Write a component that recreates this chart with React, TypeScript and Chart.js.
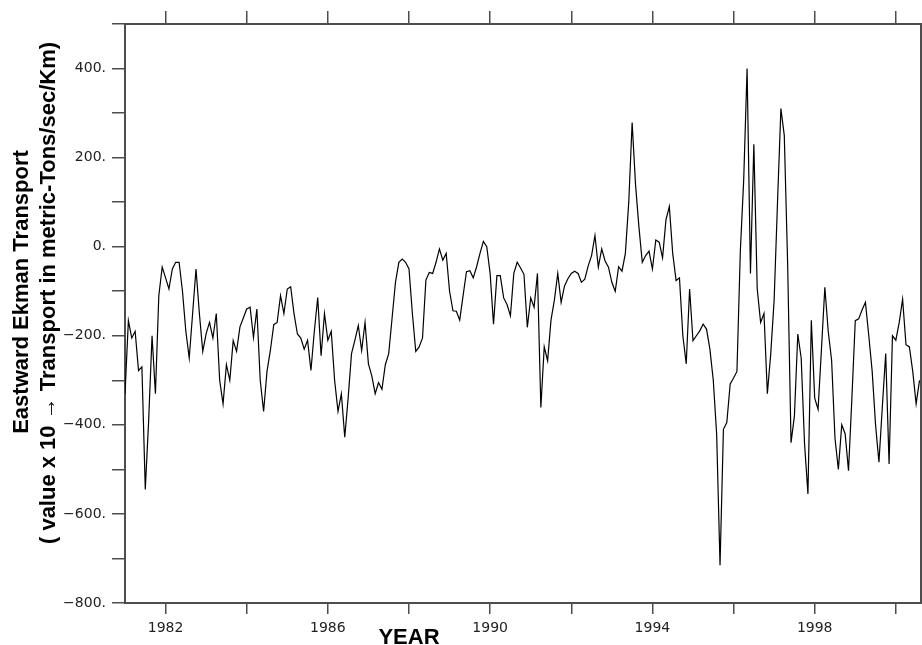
import React, { useEffect, useRef } from "react";
import Chart from "chart.js/auto";

// Monthly Eastward Ekman transport, starting January 1981
const START_YEAR = 1981;
const values1981_1984 = [
  -331, -166, -205, -190, -278, -270, -545, -390, -200, -330, -110, -46,
  -70, -95, -50, -35, -35, -100, -190, -250, -150, -50, -150, -235,
  -195, -170, -205, -150, -300, -353, -265, -300, -211, -235, -180, -160,
  -140, -136, -204, -140, -300, -370, -280, -233, -175, -170, -110, -150,
];
const values1985_1988 = [
  -95, -90, -151, -196, -205, -230, -210, -278, -190, -114, -245, -150,
  -210, -190, -300, -370, -330, -428, -340, -240, -210, -177, -233, -170,
  -263, -290, -330, -305, -320, -265, -240, -160, -80, -35, -28, -35,
  -50, -150, -235, -225, -205, -75, -58, -60, -35, -5, -30, -15,
];
const values1989_1992 = [
  -100, -144, -145, -165, -110, -56, -54, -70, -45, -15, 12, 0,
  -60, -174, -65, -65, -115, -130, -155, -60, -35, -48, -62, -181,
  -115, -136, -60, -361, -225, -256, -165, -120, -60, -125, -88, -72,
  -60, -55, -60, -80, -73, -43, -20, 25, -46, -5, -32, -46,
];
const values1993_1996 = [
  -80, -100, -45, -55, -15, 100, 279, 140, 45, -35, -20, -10,
  -50, 15, 10, -25, 60, 90, -15, -76, -70, -200, -263, -95,
  -211, -200, -189, -174, -185, -230, -300, -421, -715, -410, -395, -308,
  -295, -280, -10, 150, 400, -60, 230, -95, -170, -150, -330, -240,
];
const values1997_2000 = [
  -120, 100, 310, 250, -40, -440, -380, -196, -250, -443, -555, -165,
  -340, -365, -230, -91, -190, -255, -430, -500, -400, -420, -503, -340,
  -166, -162, -142, -125, -200, -280, -400, -484, -360, -240, -488, -200,
  -210, -170, -118, -220, -225, -280, -353, -300,
];

const X_MIN = 1981;
const X_MAX = 2000.62;
const Y_MIN = -800;
const Y_MAX = 500;
const TICK_YEARS = [1982, 1984, 1986, 1988, 1990, 1992, 1994, 1996, 1998, 2000];
const LABEL_YEARS = [1982, 1986, 1990, 1994, 1998];
const Y_TITLE = ["Eastward Ekman Transport", "( value x 10 \u2192 Transport in metric-Tons/sec/Km)"];
const X_TITLE = "YEAR";

const AXIS_COLOR = "#4d4d4d";
const TICK_FONT = { family: "'DejaVu Sans', sans-serif", size: 14 };
const TITLE_FONT = "bold 22px 'Liberation Sans', Arial, sans-serif";

const titlesPlugin = {
  id: "axisTitles",
  afterDraw(chart: any) {
    const ctx = chart.ctx;
    const area = chart.chartArea;
    ctx.save();
    ctx.fillStyle = "#000";
    ctx.font = TITLE_FONT;
    ctx.textAlign = "center";
    ctx.textBaseline = "alphabetic";
    ctx.fillText(X_TITLE, area.left + 284, 644);
    const cy = area.top + 268;
    ctx.save();
    ctx.translate(28, cy);
    ctx.rotate(-Math.PI / 2);
    ctx.fillText(Y_TITLE[0], 0, 0);
    ctx.restore();
    ctx.save();
    ctx.translate(55, cy + 1);
    ctx.rotate(-Math.PI / 2);
    ctx.fillText(Y_TITLE[1], 0, 0);
    ctx.restore();
    ctx.restore();
  },
};

function fmtY(v: number): string {
  if (v === 0) return "0.";
  return (v < 0 ? "\u2212" : "") + Math.abs(v) + ".";
}

export default function App() {
  const ref = useRef<HTMLCanvasElement | null>(null);
  useEffect(() => {
    if (!ref.current) return;
    const all = [
      ...values1981_1984,
      ...values1985_1988,
      ...values1989_1992,
      ...values1993_1996,
      ...values1997_2000,
    ];
    const points = all.map((v, i) => ({ x: START_YEAR + i / 12, y: v }));
    const setYearTicks = (s: any) => {
      s.ticks = TICK_YEARS.map((v) => ({ value: v }));
    };
    const chart = new Chart(ref.current, {
      type: "line",
      data: {
        datasets: [
          {
            data: points,
            borderColor: "#000",
            borderWidth: 1.2,
            pointRadius: 0,
            fill: false,
            tension: 0,
            xAxisID: "x",
            yAxisID: "y",
          },
        ],
      },
      options: {
        animation: false,
        responsive: false,
        devicePixelRatio: 1,
        layout: { padding: 0 },
        plugins: { legend: { display: false }, tooltip: { enabled: false }, title: { display: false } },
        scales: {
          x: {
            type: "linear",
            position: "bottom",
            min: X_MIN,
            max: X_MAX,
            afterBuildTicks: setYearTicks,
            afterFit: (s: any) => {
              s.height = 42;
            },
            grid: { drawOnChartArea: false, drawTicks: true, tickLength: 11, color: AXIS_COLOR, lineWidth: 1.5 },
            border: { display: true, color: AXIS_COLOR, width: 2 },
            ticks: {
              autoSkip: false,
              maxRotation: 0,
              padding: 6,
              color: "#222",
              font: TICK_FONT,
              callback: (v: any) => (LABEL_YEARS.includes(Number(v)) ? String(v) : ""),
            },
          },
          x2: {
            type: "linear",
            position: "top",
            min: X_MIN,
            max: X_MAX,
            afterBuildTicks: setYearTicks,
            afterFit: (s: any) => {
              s.height = 24;
            },
            grid: { drawOnChartArea: false, drawTicks: true, tickLength: 13, color: AXIS_COLOR, lineWidth: 1.5 },
            border: { display: true, color: AXIS_COLOR, width: 2 },
            ticks: { display: false },
          },
          y: {
            type: "linear",
            position: "left",
            min: Y_MIN,
            max: Y_MAX,
            afterFit: (s: any) => {
              s.width = 125;
            },
            grid: { drawOnChartArea: false, drawTicks: true, tickLength: 13, color: AXIS_COLOR, lineWidth: 1.5 },
            border: { display: true, color: AXIS_COLOR, width: 2 },
            ticks: {
              stepSize: 100,
              autoSkip: false,
              padding: 6,
              color: "#222",
              font: TICK_FONT,
              callback: (v: any) => (Number(v) % 200 === 0 ? fmtY(Number(v)) : ""),
            },
          },
          y2: {
            type: "linear",
            position: "right",
            min: Y_MIN,
            max: Y_MAX,
            afterFit: (s: any) => {
              s.width = 1;
            },
            grid: { display: false },
            border: { display: true, color: AXIS_COLOR, width: 2 },
            ticks: { display: false },
          },
        },
      },
      plugins: [titlesPlugin],
    });
    return () => chart.destroy();
  }, []);
  return (
    <div style={{ position: "absolute", left: 0, top: 0, width: 922, height: 645, background: "#fff" }}>
      <canvas ref={ref} width={922} height={645} />
    </div>
  );
}
